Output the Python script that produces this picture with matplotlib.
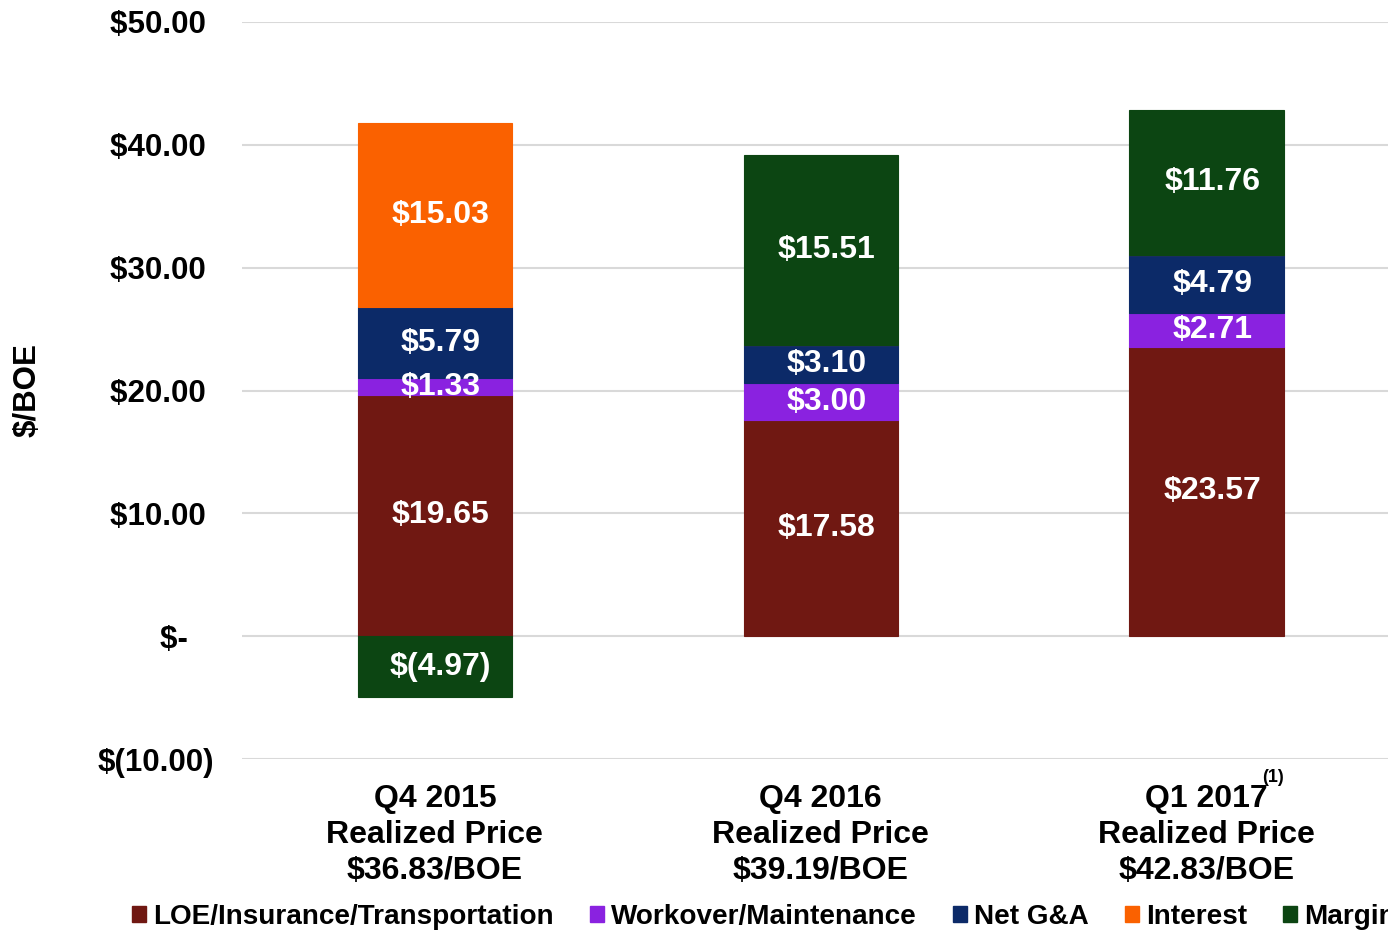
import matplotlib

matplotlib.use("Agg")
import matplotlib.pyplot as plt
import numpy as np
from matplotlib.patches import Patch

plt.rcParams["font.family"] = ["Liberation Sans", "DejaVu Sans"]
plt.rcParams["font.weight"] = "bold"

# datos ($/BOE)
categorias = [
    "Q4 2015\nRealized Price\n$36.83/BOE",
    "Q4 2016\nRealized Price\n$39.19/BOE",
    "Q1 2017\nRealized Price\n$42.83/BOE",
]
series = ["LOE/Insurance/Transportation", "Workover/Maintenance", "Net G&A", "Interest", "Margin"]
loe = [19.65, 17.58, 23.57]
workover = [1.33, 3.00, 2.71]
net_ga = [5.79, 3.10, 4.79]
interest = [15.03, 0.0, 0.0]
margin = [-4.97, 15.51, 11.76]
yticks = [-10, 0, 10, 20, 30, 40, 50]

colores = ["#701812", "#8A22E0", "#0C2A68", "#FA6100", "#0C4512"]


def fmt_money(v):
    if abs(v) < 1e-9:
        return "$-"
    if v < 0:
        return f"$({abs(v):.2f})"
    return f"${v:.2f}"


fig = plt.figure(figsize=(13.88, 9.31), dpi=100)
ax = fig.add_axes([242 / 1388, 1 - 759 / 931, 1 - 242 / 1388, (759 - 22) / 931])

x = np.arange(len(categorias))
pos = np.zeros(len(categorias))
neg = np.zeros(len(categorias))
for nombre, valores, color in zip(series, [loe, workover, net_ga, interest, margin], colores):
    valores = np.array(valores)
    bottoms = np.where(valores >= 0, pos, neg)
    ax.bar(x, valores, width=0.4, bottom=bottoms, color=color,
           edgecolor=color, linewidth=0.8, zorder=3)
    for xi, b, v in zip(x, bottoms, valores):
        if abs(v) < 1e-9:
            continue
        ax.annotate(fmt_money(v), (xi, b + v / 2), xytext=(4, 0),
                    textcoords="offset points", ha="center", va="center",
                    color="white", fontsize=23, fontweight="bold", zorder=4)
    pos = np.where(valores >= 0, pos + valores, pos)
    neg = np.where(valores < 0, neg + valores, neg)

ax.set_ylim(-10, 50)
ax.set_xlim(-0.5, 2.47)
ax.set_yticks(yticks)
ylabels = []
for t in yticks:
    if t == 0:
        ylabels.append("$-   ")
    elif t < 0:
        ylabels.append(fmt_money(t))
    else:
        ylabels.append(fmt_money(t) + " ")
ax.set_yticklabels(ylabels, fontsize=22.5, fontweight="bold")
ax.set_xticks(x)
ax.set_xticklabels(categorias, fontsize=23, fontweight="bold", linespacing=1.27)
ax.tick_params(axis="y", length=0, pad=20)
ax.tick_params(axis="x", length=0, pad=18)
ax.grid(axis="y", color="#D9D9D9", linewidth=1.5, zorder=0)
ax.set_axisbelow(True)
for s in ax.spines.values():
    s.set_visible(False)

# superindice (1) junto a Q1 2017
ax.annotate("(1)", (2, 0), xycoords=("data", "axes fraction"), xytext=(40, -7),
            textcoords="offset points", ha="left", va="top", fontsize=13,
            fontweight="bold")

fig.text(28 / 1388, 1 - 390 / 931, "$/BOE", rotation=90, ha="center", va="center",
         fontsize=22.5, fontweight="bold")

handles = [Patch(facecolor=c, edgecolor=c) for c in colores]
fig.legend(handles, series, loc="center left", bbox_to_anchor=(132 / 1388, 1 - 917 / 931),
           ncol=5, frameon=False, handlelength=0.5, handleheight=0.5,
           handletextpad=0.25, columnspacing=1.3, borderaxespad=0, borderpad=0,
           prop={"weight": "bold", "size": 20.1})

fig.savefig("out.png", dpi=100)
